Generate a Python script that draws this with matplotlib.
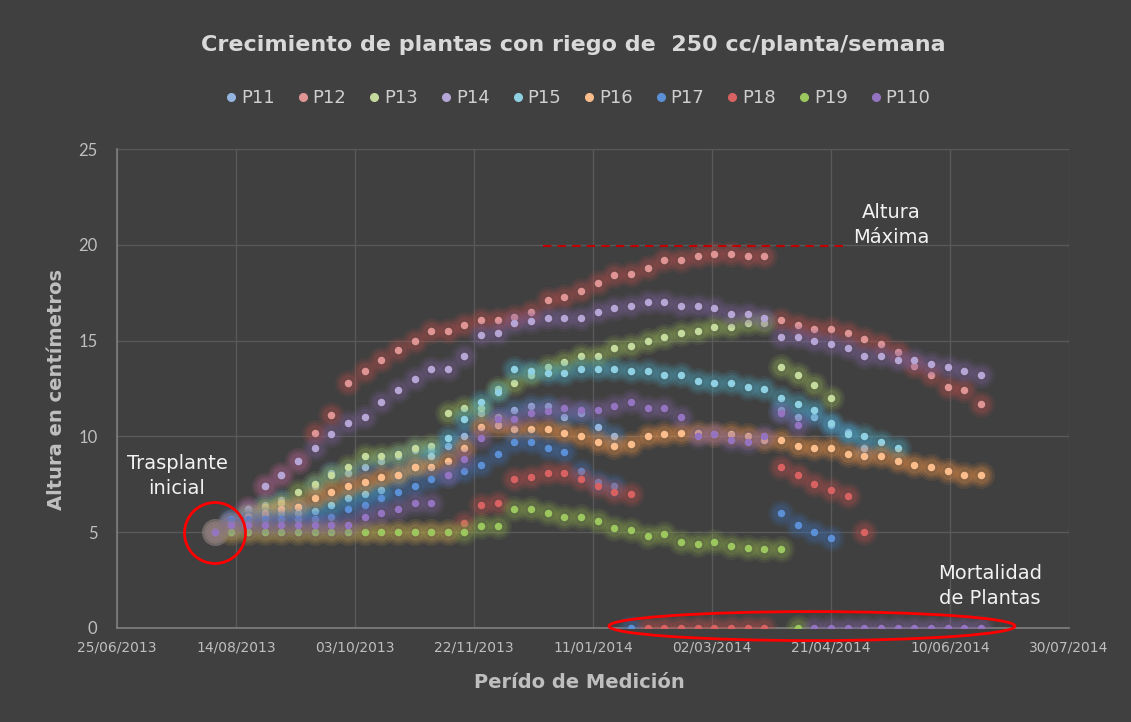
import numpy as np
import pandas as pd
import matplotlib
matplotlib.use('Agg')
import matplotlib.pyplot as plt
from matplotlib.patches import Ellipse
from matplotlib.lines import Line2D
import matplotlib.dates as mdates

N = None
# ---------------- data ----------------
first_date = '2013-08-05'
n_weeks = 47
dates = pd.date_range(first_date, periods=n_weeks, freq='7D')

series_names = ['P11', 'P12', 'P13', 'P14', 'P15', 'P16', 'P17', 'P18', 'P19', 'P110']

p11 = [5.0, 5.5, 6.1, 6.4, 6.7, 6.3, 7.4, 8.1, 8.1, 8.4, 8.7, 9.0, 9.3, 9.3, 9.5, 10.0,
       11.2, 11.0, 11.4, 11.6, 11.6, 11.0, 11.2, 10.5, 10.0, N, N, N, N, N, N, N, N, N,
       11.4, 11.0, 11.0, 10.6, 10.25, 9.4, N, N, N, N, N, N, N]
p12 = [5.0, 5.5, 6.2, 7.4, 8.0, 8.7, 10.2, 11.1, 12.8, 13.4, 14.0, 14.5, 15.0, 15.5, 15.5, 15.8,
       16.05, 16.1, 16.25, 16.5, 17.1, 17.3, 17.6, 18.0, 18.4, 18.5, 18.8, 19.2, 19.2, 19.4, 19.5, 19.5,
       19.4, 19.4, 16.1, 15.8, 15.6, 15.6, 15.4, 15.1, 14.8, 14.4, 13.7, 13.2, 12.6, 12.4, 11.7]
p13 = [5.0, 5.3, 5.9, 6.3, 6.5, 7.1, 7.5, 8.0, 8.4, 9.0, 9.0, 9.1, 9.4, 9.5, 11.2, 11.5,
       11.5, 12.5, 12.8, 13.2, 13.6, 13.9, 14.2, 14.2, 14.6, 14.7, 15.0, 15.2, 15.4, 15.5, 15.7, 15.7,
       15.9, 15.9, 13.6, 13.2, 12.7, 12.0, N, N, N, N, N, N, N, N, N]
p14 = [5.0, 5.4, 6.2, 7.4, 8.0, 8.7, 9.4, 10.1, 10.7, 11.0, 11.8, 12.4, 13.0, 13.5, 13.5, 14.2,
       15.3, 15.4, 15.9, 16.0, 16.2, 16.2, 16.2, 16.5, 16.7, 16.8, 17.0, 17.0, 16.8, 16.8, 16.7, 16.4,
       16.4, 16.2, 15.2, 15.2, 15.0, 14.8, 14.6, 14.2, 14.2, 14.0, 14.0, 13.8, 13.6, 13.4, 13.2]
p15 = [5.0, 5.5, 5.8, 5.9, 6.0, 6.0, 6.1, 6.4, 6.8, 7.0, 7.2, 8.0, 8.4, 9.0, 9.9, 10.9,
       11.8, 12.3, 13.5, 13.4, 13.3, 13.3, 13.5, 13.5, 13.5, 13.4, 13.4, 13.2, 13.2, 12.9, 12.8, 12.8,
       12.6, 12.5, 12.0, 11.7, 11.4, 10.7, 10.1, 10.0, 9.7, 9.4, N, N, N, N, N]
p16 = [5.0, 5.5, 5.8, 6.0, 6.2, 6.3, 6.8, 7.1, 7.4, 7.6, 7.9, 8.0, 8.4, 8.4, 8.7, 9.4,
       10.5, 10.6, 10.4, 10.4, 10.4, 10.2, 10.0, 9.7, 9.5, 9.6, 10.0, 10.1, 10.2, 10.2, 10.1, 10.1,
       10.0, 9.8, 9.8, 9.5, 9.4, 9.4, 9.1, 9.0, 9.0, 8.7, 8.5, 8.4, 8.2, 8.0, 8.0]
p17 = [5.0, 5.7, 5.7, 5.7, 5.7, 5.7, 5.7, 5.8, 6.2, 6.4, 6.8, 7.1, 7.4, 7.8, 8.0, 8.2,
       8.5, 9.1, 9.7, 9.7, 9.4, 9.2, 8.2, 7.6, 7.4, 0.0, N, N, N, N, N, N,
       N, N, 6.0, 5.4, 5.0, 4.7, N, N, N, N, N, N, N, N, N]
p18 = [5.0, 5.0, 5.0, 5.0, 5.0, 5.0, 5.0, 5.0, 5.0, 5.0, 5.0, 5.0, 5.0, 5.0, 5.0, 5.5,
       6.4, 6.5, 7.8, 7.9, 8.1, 8.1, 7.8, 7.4, 7.1, 7.0, 0.0, 0.0, 0.0, 0.0, 0.0, 0.0,
       0.0, 0.0, 8.4, 8.0, 7.5, 7.2, 6.9, 5.0, N, N, N, N, N, N, N]
p19 = [5.0, 5.0, 5.0, 5.0, 5.0, 5.0, 5.0, 5.0, 5.0, 5.0, 5.0, 5.0, 5.0, 5.0, 5.0, 5.0,
       5.3, 5.3, 6.2, 6.2, 6.0, 5.8, 5.8, 5.6, 5.2, 5.1, 4.8, 4.9, 4.5, 4.4, 4.5, 4.3,
       4.2, 4.1, 4.1, 0.0, N, N, N, N, N, N, N, N, N, N, N]
p110 = [5.0, 5.4, 5.35, 5.35, 5.35, 5.35, 5.35, 5.35, 5.4, 5.8, 6.0, 6.2, 6.5, 6.5, 8.0, 8.8,
        9.9, 10.9, 10.9, 11.2, 11.3, 11.5, 11.4, 11.4, 11.6, 11.8, 11.5, 11.5, 11.0, 10.0, 10.1, 9.8,
        9.7, 10.0, 11.2, 10.6, 0.0, 0.0, 0.0, 0.0, 0.0, 0.0, 0.0, 0.0, 0.0, 0.0, 0.0]

series_values = [p11, p12, p13, p14, p15, p16, p17, p18, p19, p110]

x_ticks = pd.date_range('2013-06-25', '2014-07-30', freq='50D')
y_ticks = [0, 5, 10, 15, 20, 25]

# ---------------- style ----------------
bg = '#404040'
dot_colors = ['#93b5e0', '#e09595', '#c5da9d', '#b5a6d6', '#8fd0e2', '#fbbd8c',
              '#5b8fd6', '#d86262', '#9cc75f', '#9474c0']
glow_colors = ['#4F81BD', '#C0504D', '#9BBB59', '#8064A2', '#4BACC6', '#F79646',
               '#3f72b8', '#C0504D', '#8fb04a', '#8064A2']

W, H = 1131, 722
fig = plt.figure(figsize=(W / 100, H / 100), dpi=100, facecolor=bg)
ax = fig.add_axes([117 / W, 1 - 628 / H, (1069 - 117) / W, (628 - 149) / H])
ax.set_facecolor(bg)

for i, (name, vals) in enumerate(zip(series_names, series_values)):
    y = np.array([np.nan if v is None else v for v in vals], dtype=float)
    z = 3 + i
    for d, a in [(27, 0.10), (22, 0.14), (17, 0.20)]:
        ax.scatter(dates, y, s=(d * 0.72) ** 2, color=glow_colors[i], alpha=a,
                   linewidths=0, zorder=z)
    ax.scatter(dates, y, s=(7.5 * 0.72) ** 2, color=dot_colors[i], linewidths=0,
               zorder=z + 0.5)

ax.set_xlim(x_ticks[0], x_ticks[-1])
ax.set_ylim(0, 25)
ax.set_xticks(x_ticks)
ax.xaxis.set_major_formatter(mdates.DateFormatter('%d/%m/%Y'))
ax.set_yticks(y_ticks)
ax.grid(True, color='#595959', linewidth=1.0)
ax.set_axisbelow(True)
for s in ['top', 'right']:
    ax.spines[s].set_visible(False)
for s in ['left', 'bottom']:
    ax.spines[s].set_color('#7f7f7f')
    ax.spines[s].set_linewidth(1.2)
ax.tick_params(axis='both', length=0, colors='#bfbfbf')
ax.tick_params(axis='x', pad=9, labelsize=10)
ax.tick_params(axis='y', pad=14, labelsize=12)
for lab in ax.get_yticklabels():
    lab.set_fontfamily('Lato')

# annotations
ax.axhline(19.95, xmin=(543 - 117) / 952, xmax=(845 - 117) / 952, color='#c00000',
           linewidth=1.5, dashes=(4, 3), zorder=20)
ax.add_patch(Ellipse(((215 - 117) / 952, (628 - 533) / 479), width=61 / 952, height=61 / 479,
                     transform=ax.transAxes, fill=False, edgecolor='#ff0000', linewidth=2.0,
                     zorder=25, clip_on=False))
ax.add_patch(Ellipse((0.730, 0.004), width=0.4265, height=0.0605, transform=ax.transAxes,
                     fill=False, edgecolor='#ff0000', linewidth=2.0, zorder=25, clip_on=False))

txt_kw = dict(color='#f2f2f2', fontsize=14, ha='center', va='center', linespacing=1.35,
              transform=ax.transAxes, zorder=30)
ax.text((177 - 117) / 952, (628 - 476) / 479, 'Trasplante\ninicial', **txt_kw)
ax.text((891 - 117) / 952, (628 - 225) / 479, 'Altura\nMáxima', **txt_kw)
ax.text((990 - 117) / 952, (628 - 586) / 479, 'Mortalidad\nde Plantas', **txt_kw)

# titles
fig.text(573 / W, 1 - 45 / H, 'Crecimiento de plantas con riego de  250 cc/planta/semana',
         color='#d9d9d9', fontsize=16, fontweight='bold', ha='center', va='center')
fig.text(579 / W, 1 - 683 / H, 'Perído de Medición', color='#bfbfbf', fontsize=14,
         fontweight='bold', ha='center', va='center')
fig.text(57 / W, 1 - 390 / H, 'Altura en centímetros', color='#bfbfbf', fontsize=14,
         fontweight='bold', ha='center', va='center', rotation=90)

handles = [Line2D([], [], marker='o', linestyle='', color=c, markersize=5.5) for c in dot_colors]
fig.legend(handles, series_names, ncol=10, loc='center', bbox_to_anchor=(578 / W, 1 - 98 / H),
           frameon=False, handlelength=0.6, handletextpad=0.25, columnspacing=1.25,
           fontsize=13, labelcolor='#cfcfcf')

fig.savefig('out.png', dpi=100, facecolor=bg)
